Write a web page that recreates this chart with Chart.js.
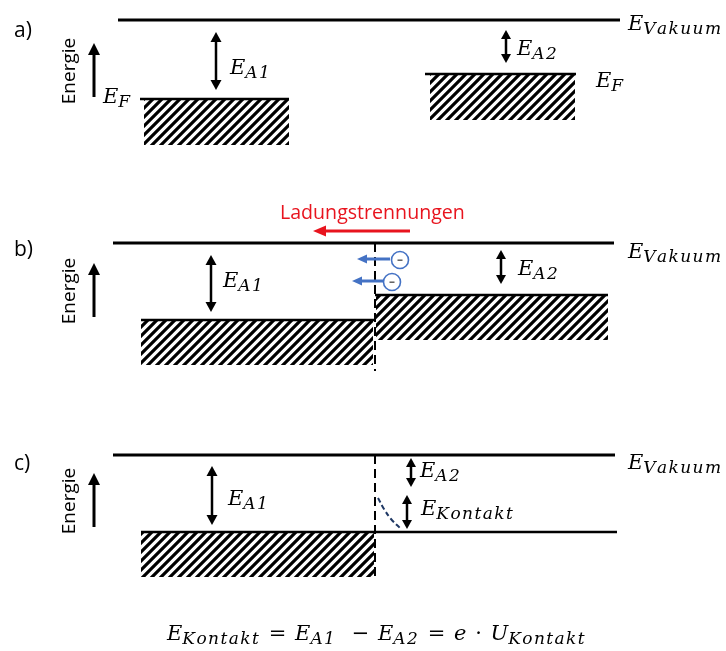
<!DOCTYPE html>
<html>
<head>
<meta charset="utf-8">
<script src="https://cdn.jsdelivr.net/npm/chart.js@4"></script>
<style>
  html, body { margin: 0; padding: 0; background: #fff; }
  #wrap { width: 726px; height: 651px; }
</style>
</head>
<body>
<div id="wrap"><canvas id="diagram" width="726" height="651"></canvas></div>
<script>
// Contact potential: energy levels of two metals, before / during / after contact
// diagram units: x to the right, y downward (one unit = one pixel of the original figure)

const panelLabels = ['a)', 'b)', 'c)'];

// vacuum level per panel
const vacuumY = [20, 243, 455];
const vacuumFrom = [118, 113, 113];
const vacuumTo = [620, 614, 615];

// Fermi level of metal 1 (left) and metal 2 (right)
const fermi1Y = [99, 320, 532];
const fermi1From = [140, 141, 141];
const fermi1To = [289, 375, 375];
const fermi2Y = [74, 295, 532];
const fermi2From = [425, 375, 375];
const fermi2To = [576, 608, 617];

// filled (hatched) bands below the Fermi levels
const band1From = [144, 141, 141];
const band1To = [289, 373, 374];
const band1Bottom = [145, 365, 577];
const band2From = [430, 376];
const band2To = [575, 608];
const band2Bottom = [120, 340];

// contact plane (panels b and c)
const contactX = 375;
const contactTop = [243, 455];
const contactBottom = [371, 579];

// work function arrows
const eA1X = [216, 211, 212];
const eA1Top = [32, 255, 466];
const eA1Bottom = [90, 312, 525];
const eA2X = [506, 501, 411];
const eA2Top = [30, 250, 458];
const eA2Bottom = [63, 284, 487];
const kontaktArrow = [407, 495, 529];

// "Energie" arrows
const energyArrowX = 94;
const energyArrowTop = [43, 263, 473];
const energyArrowBottom = [97, 317, 527];

// electrons drifting to the left (panel b)
const electronX = [400, 392];
const electronY = [260, 282];
const driftTail = [390, 383];
const driftTip = [357, 352];

// charge separation arrow (panel b)
const separationFrom = 410;
const separationTo = 313;
const separationY = 231;

// band bending sketch (panel c)
const bendX = [378, 384, 391, 400];
const bendY = [498, 509, 519, 528];

const BLACK = '#000000';
const BLUE = '#4472C4';
const RED = '#E8141E';
const NAVY = '#1F3864';

function hatchPattern() {
    const c = document.createElement('canvas');
    c.width = 9; c.height = 9;
    const g = c.getContext('2d');
    g.strokeStyle = BLACK;
    g.lineWidth = 3.2;
    g.beginPath();
    g.moveTo(-2, 11); g.lineTo(11, -2);
    g.moveTo(-3, 3); g.lineTo(3, -3);
    g.moveTo(6, 12); g.lineTo(12, 6);
    g.stroke();
    return g.createPattern(c, 'repeat');
}

const hatch = hatchPattern();

function segment(x1, y1, x2, y2, opts) {
    return Object.assign({
        data: [{ x: x1, y: y1 }, { x: x2, y: y2 }],
        borderColor: BLACK,
        borderWidth: 3,
        pointRadius: 0,
        fill: false
    }, opts || {});
}

const datasets = [];

// electrons (drawn on top)
datasets.push({
    data: electronX.map((x, i) => ({ x, y: electronY[i] })),
    showLine: false,
    pointRadius: 8.5,
    pointBorderWidth: 1.6,
    pointBorderColor: BLUE,
    pointBackgroundColor: '#ffffff'
});

// vacuum levels
vacuumY.forEach((y, i) => datasets.push(segment(vacuumFrom[i], y, vacuumTo[i], y)));

// Fermi levels
fermi1Y.forEach((y, i) => datasets.push(segment(fermi1From[i], y, fermi1To[i], y, { borderWidth: 2.6 })));
fermi2Y.forEach((y, i) => datasets.push(segment(fermi2From[i], y, fermi2To[i], y, { borderWidth: 2.6 })));

// contact planes
contactTop.forEach((y, i) => datasets.push(segment(contactX, y, contactX, contactBottom[i], {
    borderWidth: 2, borderDash: [9, 5]
})));

// band bending
datasets.push({
    data: bendX.map((x, i) => ({ x, y: bendY[i] })),
    borderColor: NAVY,
    borderWidth: 2,
    borderDash: [5, 3],
    tension: 0.4,
    pointRadius: 0,
    fill: false
});

// hatched bands
band1From.forEach((x, i) => datasets.push(segment(x, fermi1Y[i] + 1, band1To[i], fermi1Y[i] + 1, {
    borderWidth: 0, fill: { value: band1Bottom[i] }, backgroundColor: hatch
})));
band2From.forEach((x, i) => datasets.push(segment(x, fermi2Y[i] + 1, band2To[i], fermi2Y[i] + 1, {
    borderWidth: 0, fill: { value: band2Bottom[i] }, backgroundColor: hatch
})));

// arrows and labels, placed through the chart scales
function arrowHead(ctx, x, y, dx, dy, len, half, color) {
    const n = Math.hypot(dx, dy);
    const ux = dx / n, uy = dy / n;
    ctx.fillStyle = color;
    ctx.beginPath();
    ctx.moveTo(x, y);
    ctx.lineTo(x - ux * len - uy * half, y - uy * len + ux * half);
    ctx.lineTo(x - ux * len + uy * half, y - uy * len - ux * half);
    ctx.closePath();
    ctx.fill();
}

function arrow(ctx, x1, y1, x2, y2, o) {
    const n = Math.hypot(x2 - x1, y2 - y1);
    const ux = (x2 - x1) / n, uy = (y2 - y1) / n;
    const cut = o.len * 0.8;
    ctx.strokeStyle = o.color;
    ctx.lineWidth = o.width;
    ctx.beginPath();
    ctx.moveTo(o.both ? x1 + ux * cut : x1, o.both ? y1 + uy * cut : y1);
    ctx.lineTo(x2 - ux * cut, y2 - uy * cut);
    ctx.stroke();
    arrowHead(ctx, x2, y2, ux, uy, o.len, o.half, o.color);
    if (o.both) arrowHead(ctx, x1, y1, -ux, -uy, o.len, o.half, o.color);
}

const MATH = '"DejaVu Serif", "Liberation Serif", serif';
const SANS = '"Open Sans", "Noto Sans", sans-serif';
const SUB_SPACING = 1.4;
const OP_GAP = 2;

// parts: [text, 'i' italic | 's' subscript | 'r' upright operator]
function mathText(ctx, parts, x, y, size, subSize) {
    let cx = x;
    ctx.fillStyle = BLACK;
    ctx.textBaseline = 'alphabetic';
    ctx.textAlign = 'left';
    parts.forEach(([t, kind]) => {
        if (kind === 's') {
            ctx.font = `italic ${subSize}px ${MATH}`;
            for (const ch of t) {
                ctx.fillText(ch, cx, y + size * 0.2);
                cx += ctx.measureText(ch).width + SUB_SPACING;
            }
            return;
        }
        if (kind === 'r') {
            ctx.font = `${size}px ${MATH}`;
            cx += OP_GAP;
            ctx.fillText(t, cx, y);
            cx += ctx.measureText(t).width + OP_GAP;
            return;
        }
        ctx.font = `italic ${size}px ${MATH}`;
        ctx.fillText(t, cx, y);
        cx += ctx.measureText(t).width;
    });
}

const annotations = {
    id: 'annotations',
    afterDatasetsDraw(chart) {
        const ctx = chart.ctx;
        const sx = v => chart.scales.x.getPixelForValue(v);
        const sy = v => chart.scales.y.getPixelForValue(v);
        ctx.save();

        // energy axes
        energyArrowTop.forEach((t, i) => {
            arrow(ctx, sx(energyArrowX), sy(energyArrowBottom[i]), sx(energyArrowX), sy(t),
                { color: BLACK, width: 3, len: 12, half: 6 });
        });

        // work functions
        eA1X.forEach((x, i) => arrow(ctx, sx(x), sy(eA1Top[i]), sx(x), sy(eA1Bottom[i]),
            { color: BLACK, width: 2.5, len: 10, half: 5.5, both: true }));
        eA2X.forEach((x, i) => arrow(ctx, sx(x), sy(eA2Top[i]), sx(x), sy(eA2Bottom[i]),
            { color: BLACK, width: 2.5, len: 9, half: 5, both: true }));
        arrow(ctx, sx(kontaktArrow[0]), sy(kontaktArrow[1]), sx(kontaktArrow[0]), sy(kontaktArrow[2]),
            { color: BLACK, width: 2.5, len: 9, half: 5, both: true });

        // charge separation
        arrow(ctx, sx(separationFrom), sy(separationY), sx(separationTo), sy(separationY),
            { color: RED, width: 3, len: 13, half: 5.5 });
        driftTail.forEach((x, i) => arrow(ctx, sx(x), sy(electronY[i] - 1), sx(driftTip[i]), sy(electronY[i] - 1),
            { color: BLUE, width: 3, len: 10, half: 4.5 }));

        // minus signs in electrons
        ctx.fillStyle = '#555';
        electronX.forEach((x, i) => ctx.fillRect(sx(x) - 2.5, sy(electronY[i]) - 0.5, 5, 1.4));

        // panel letters and energy axis captions
        ctx.fillStyle = BLACK;
        ctx.font = `21px ${SANS}`;
        ctx.textAlign = 'left';
        ctx.textBaseline = 'alphabetic';
        const letterY = [37, 256, 470];
        panelLabels.forEach((t, i) => ctx.fillText(t, 14, sy(letterY[i])));

        ctx.font = `19px ${SANS}`;
        ctx.textAlign = 'center';
        ctx.textBaseline = 'middle';
        energyArrowTop.forEach((t, i) => {
            ctx.save();
            ctx.translate(sx(70), sy((t + energyArrowBottom[i]) / 2 + 1));
            ctx.rotate(-Math.PI / 2);
            ctx.fillText('Energie', 0, 0);
            ctx.restore();
        });

        ctx.fillStyle = RED;
        ctx.font = `19.6px ${SANS}`;
        ctx.textAlign = 'left';
        ctx.textBaseline = 'alphabetic';
        ctx.fillText('Ladungstrennungen', sx(280), sy(219));

        // math labels
        const S = 21, SS = 17;
        mathText(ctx, [['E', 'i'], ['A1', 's']], sx(230), sy(74), S, SS);
        mathText(ctx, [['E', 'i'], ['F', 's']], sx(103), sy(103), S, SS);
        mathText(ctx, [['E', 'i'], ['A2', 's']], sx(517), sy(55), S, SS);
        mathText(ctx, [['E', 'i'], ['F', 's']], sx(596), sy(87), S, SS);
        mathText(ctx, [['E', 'i'], ['Vakuum', 's']], sx(628), sy(30), S, SS);

        mathText(ctx, [['E', 'i'], ['A1', 's']], sx(223), sy(287), S, SS);
        mathText(ctx, [['E', 'i'], ['A2', 's']], sx(518), sy(275), S, SS);
        mathText(ctx, [['E', 'i'], ['Vakuum', 's']], sx(628), sy(258), S, SS);

        mathText(ctx, [['E', 'i'], ['A1', 's']], sx(228), sy(505), S, SS);
        mathText(ctx, [['E', 'i'], ['A2', 's']], sx(420), sy(477), S, SS);
        mathText(ctx, [['E', 'i'], ['Kontakt', 's']], sx(421), sy(515), S, SS);
        mathText(ctx, [['E', 'i'], ['Vakuum', 's']], sx(628), sy(469), S, SS);

        mathText(ctx, [
            ['E', 'i'], ['Kontakt', 's'], [' = ', 'r'], ['E', 'i'], ['A1', 's'], ['  \u2212 ', 'r'],
            ['E', 'i'], ['A2', 's'], [' = ', 'r'], ['e', 'i'], [' \u00B7 ', 'r'], ['U', 'i'], ['Kontakt', 's']
        ], sx(167), sy(640), S, SS);

        ctx.restore();
    }
};

new Chart(document.getElementById('diagram'), {
    type: 'line',
    data: { datasets },
    options: {
        responsive: false,
        devicePixelRatio: 1,
        animation: false,
        events: [],
        layout: { padding: 0, autoPadding: false },
        plugins: { legend: { display: false }, tooltip: { enabled: false } },
        scales: {
            x: { type: 'linear', min: 0, max: 726, display: false },
            y: { type: 'linear', min: 0, max: 651, reverse: true, display: false }
        }
    },
    plugins: [annotations]
});
</script>
</body>
</html>
